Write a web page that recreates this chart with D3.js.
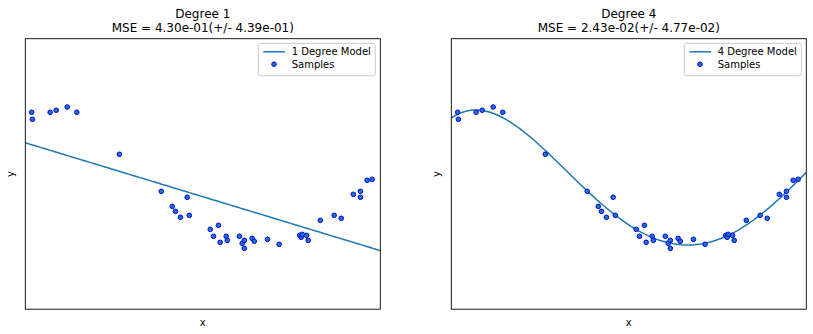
<!DOCTYPE html>
<html><head><meta charset="utf-8">
<script src="https://cdn.jsdelivr.net/npm/d3@7"></script>
<style>body{margin:0;background:#fff} text{font-family:"DejaVu Sans",sans-serif;fill:#000}</style>
</head><body><svg id="c" width="813" height="334"></svg>
<script>
const sampleX = [0.018,0.020,0.070,0.087,0.118,0.145,0.265,0.383,0.414,0.423,0.437,0.456,0.462,0.521,0.530,0.544,0.549,0.566,0.569,0.603,0.611,0.617,0.617,0.639,0.645,0.682,0.715,0.773,0.777,0.780,0.792,0.797,0.831,0.870,0.890,0.924,0.944,0.944,0.963,0.977];
const sampleY = [0.912,0.808,0.912,0.942,0.990,0.912,0.291,-0.257,-0.479,-0.553,-0.641,-0.345,-0.612,-0.819,-0.922,-0.760,-1.011,-0.922,-0.982,-0.922,-1.026,-0.982,-1.100,-0.952,-0.996,-0.967,-1.041,-0.908,-0.937,-0.893,-0.908,-0.982,-0.686,-0.612,-0.656,-0.301,-0.257,-0.345,-0.094,-0.079];
const degrees = [1, 4];
const titles = ["Degree 1", "Degree 4"];
const mseTitles = ["MSE = 4.30e-01(+/- 4.39e-01)", "MSE = 2.43e-02(+/- 4.77e-02)"];
const legendLabels = ["1 Degree Model", "4 Degree Model"];
const xDomain = [0, 1], yDomain = [-2, 2];

function polyfit(xs, ys, deg) {
  const n = deg + 1;
  const A = Array.from({length: n}, () => new Array(n + 1).fill(0));
  for (let k = 0; k < xs.length; k++) {
    const p = [];
    for (let i = 0; i < n; i++) p.push(Math.pow(xs[k], i));
    for (let i = 0; i < n; i++) {
      for (let j = 0; j < n; j++) A[i][j] += p[i] * p[j];
      A[i][n] += p[i] * ys[k];
    }
  }
  for (let c = 0; c < n; c++) {
    let piv = c;
    for (let r = c + 1; r < n; r++) if (Math.abs(A[r][c]) > Math.abs(A[piv][c])) piv = r;
    [A[c], A[piv]] = [A[piv], A[c]];
    for (let r = 0; r < n; r++) {
      if (r === c) continue;
      const f = A[r][c] / A[c][c];
      for (let j = c; j <= n; j++) A[r][j] -= f * A[c][j];
    }
  }
  return A.map((row, i) => row[n] / row[i]);
}

const svg = d3.select("#c");
const panelLeft = [25.3, 451.3];
const W = 355, axTop = 38.7, axBottom = 309.2;
const testX = d3.range(100).map(i => i / 99);

degrees.forEach((deg, idx) => {
  const x0 = panelLeft[idx];
  const x = d3.scaleLinear().domain(xDomain).range([x0, x0 + W]);
  const y = d3.scaleLinear().domain(yDomain).range([axBottom, axTop]);
  const g = svg.append("g");
  const clipId = "clip" + idx;
  g.append("clipPath").attr("id", clipId).append("rect")
    .attr("x", x0).attr("y", axTop).attr("width", W).attr("height", axBottom - axTop);

  const coef = polyfit(sampleX, sampleY, deg);
  const f = t => coef.reduce((s, c, i) => s + c * Math.pow(t, i), 0);
  g.append("path").datum(testX)
    .attr("clip-path", `url(#${clipId})`)
    .attr("d", d3.line().x(d => x(d)).y(d => y(f(d))))
    .attr("fill", "none").attr("stroke", "#1f77b4").attr("stroke-width", 1.5);

  g.selectAll("circle.s").data(sampleX).enter().append("circle")
    .attr("cx", d => x(d)).attr("cy", (d, i) => y(sampleY[i]))
    .attr("r", 2.3).attr("fill", "#1f77b4").attr("stroke", "#0000ff").attr("stroke-width", 1);

  g.append("rect").attr("x", x0).attr("y", axTop).attr("width", W).attr("height", axBottom - axTop)
    .attr("fill", "none").attr("stroke", "#000").attr("stroke-width", 0.9);

  const cx = x0 + W / 2;
  g.append("text").attr("x", cx).attr("y", 17.6).attr("text-anchor", "middle").attr("font-size", 12).text(titles[idx]);
  g.append("text").attr("x", cx).attr("y", 32).attr("text-anchor", "middle").attr("font-size", 12).text(mseTitles[idx]);
  g.append("text").attr("x", cx).attr("y", 326).attr("text-anchor", "middle").attr("font-size", 10).text("x");
  g.append("text").attr("transform", `translate(${x0 - 11},${(axTop + axBottom) / 2}) rotate(-90)`)
    .attr("text-anchor", "middle").attr("font-size", 10).text("y");

  const lw = 117, lh = 32.4;
  const lx = x0 + W - 5 - lw, ly = axTop + 4.7;
  g.append("rect").attr("x", lx).attr("y", ly).attr("width", lw).attr("height", lh).attr("rx", 2)
    .attr("fill", "#fff").attr("fill-opacity", 0.8).attr("stroke", "#ccc").attr("stroke-width", 1);
  g.append("line").attr("x1", lx + 5).attr("x2", lx + 26.7).attr("y1", ly + 8.4).attr("y2", ly + 8.4)
    .attr("stroke", "#1f77b4").attr("stroke-width", 1.5);
  g.append("text").attr("x", lx + 33.4).attr("y", ly + 12).attr("font-size", 10).text(legendLabels[idx]);
  g.append("circle").attr("cx", lx + 15.7).attr("cy", ly + 20.8).attr("r", 2.3)
    .attr("fill", "#1f77b4").attr("stroke", "#0000ff").attr("stroke-width", 1);
  g.append("text").attr("x", lx + 33.4).attr("y", ly + 24.4).attr("font-size", 10).text("Samples");
});
</script></body></html>
